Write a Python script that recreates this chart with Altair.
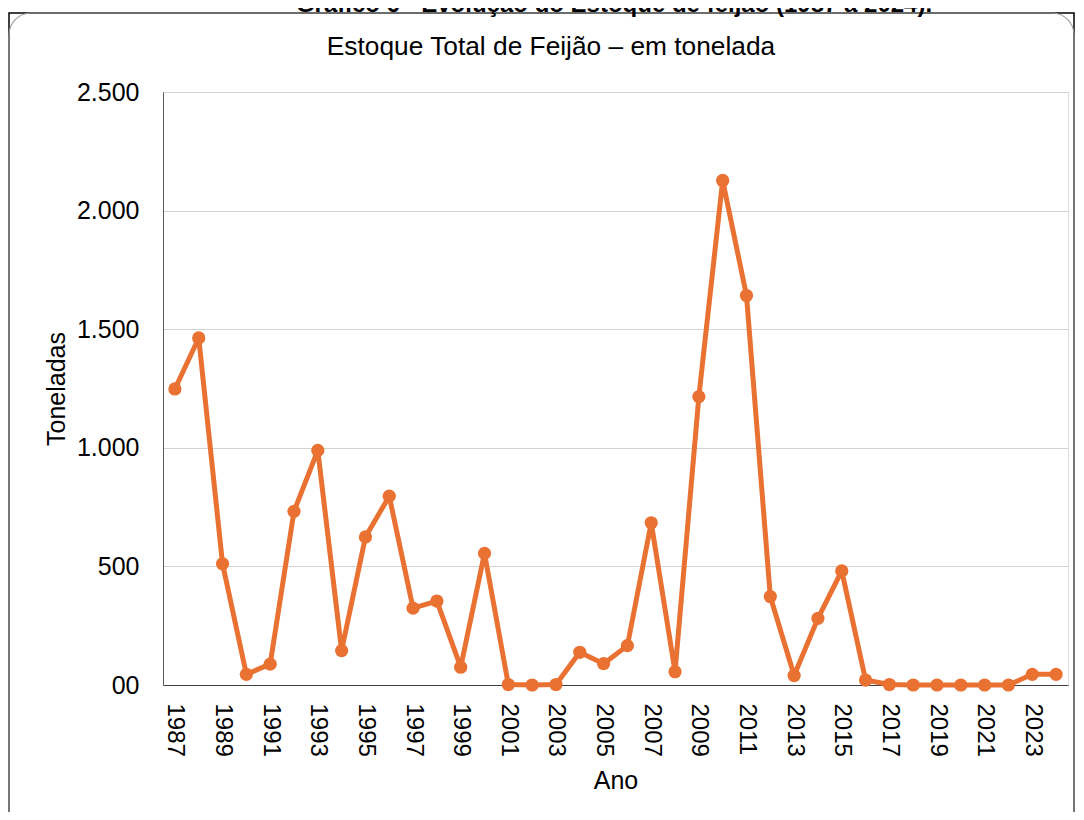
import altair as alt
import pandas as pd

# ---- data ----
years = list(range(1987, 2025))
estoque = [1248, 1463, 511, 45, 88, 732, 989, 145, 624, 796,
           324, 354, 75, 555, 2, 0, 2, 138, 90, 166,
           684, 56, 1216, 2127, 1642, 373, 40, 281, 481, 21,
           2, 0, 0, 0, 0, 0, 45, 45]
x_ticks = list(range(1987, 2024, 2))
y_ticks = [0, 500, 1000, 1500, 2000, 2500]

page_title = "Gráfico 6 - Evolução do Estoque de feijão (1987 a 2024)."
chart_title = "Estoque Total de Feijão – em tonelada"
x_title = "Ano"
y_title = "Toneladas"

df = pd.DataFrame({"Ano": years, "Toneladas": estoque})
one = pd.DataFrame({"k": [0]})

FONT = "Liberation Sans"
ORANGE = "#E97132"
W, H = 905, 593
L, T, R, B = 155, 84, 8, 127

x_enc = alt.X(
    "Ano:Q",
    scale=alt.Scale(domain=[1986.5, 2024.5], nice=False, zero=False),
    axis=alt.Axis(
        values=x_ticks, format="d", labelAngle=90, labelFontSize=24,
        labelPadding=18, ticks=False, grid=False, domainColor="#404040",
        domainWidth=1, labelFlush=False, labelOverlap=False, labelColor="#000",
        labelFont=FONT, title=x_title, titleFont=FONT, titleFontSize=25,
        titleFontWeight="normal", titleColor="#000", titleX=W / 2, titleY=95,
        titleAlign="center", titleBaseline="middle",
    ),
)
y_enc = alt.Y(
    "Toneladas:Q",
    scale=alt.Scale(domain=[0, 2500], nice=False),
    axis=alt.Axis(
        values=y_ticks, ticks=False, grid=True, gridColor="#d4d4d4", gridWidth=1,
        domainColor="#595959", domainWidth=1, labelFontSize=25, labelPadding=24,
        labelColor="#000", labelFont=FONT,
        labelExpr="datum.value == 0 ? '00' : replace(format(datum.value, ','), ',', '.')",
        title=y_title, titleFont=FONT, titleFontSize=25, titleFontWeight="normal",
        titleColor="#000", titleAngle=-90, titleX=-107, titleY=H / 2,
        titleAlign="center", titleBaseline="middle",
    ),
)

frame_black = alt.Chart(one).mark_rect(
    fillOpacity=0, stroke="#000000", strokeWidth=1.5
).encode(x=alt.value(-154), x2=alt.value(911), y=alt.value(-79), y2=alt.value(800))

frame_round = alt.Chart(one).mark_rect(
    fillOpacity=0, stroke="#9a9a9a", strokeWidth=1.2, cornerRadius=22
).encode(x=alt.value(-154), x2=alt.value(911), y=alt.value(-79), y2=alt.value(800))

top_title = alt.Chart(one).mark_text(
    text=page_title, font=FONT, fontSize=24, fontWeight="bold", color="#000",
    align="center", baseline="alphabetic"
).encode(x=alt.value(451), y=alt.value(-80))

inner_title = alt.Chart(one).mark_text(
    text=chart_title, font=FONT, fontSize=26.3, color="#000",
    align="center", baseline="alphabetic"
).encode(x=alt.value(388), y=alt.value(-37))

line = alt.Chart(df).mark_line(
    color=ORANGE, strokeWidth=5, strokeJoin="round", strokeCap="round"
).encode(x=x_enc, y=y_enc)

points = alt.Chart(df).mark_circle(color=ORANGE, size=175, opacity=1).encode(
    x=alt.X("Ano:Q"), y=alt.Y("Toneladas:Q")
)

chart = alt.layer(frame_black, frame_round, top_title, inner_title, line, points).properties(
    width=W, height=H,
    autosize=alt.AutoSizeParams(type="none"),
    padding={"left": L, "top": T, "right": R, "bottom": B},
).configure_view(strokeWidth=0).configure(font=FONT, background="white")

chart.save("out.html", embed_options={"renderer": "svg", "actions": False})
